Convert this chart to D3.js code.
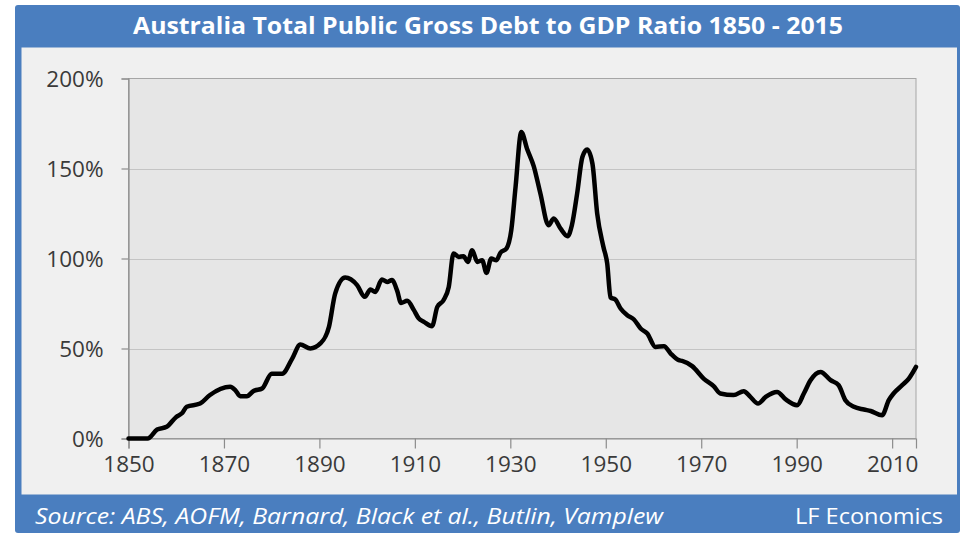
<!DOCTYPE html>
<html>
<head>
<meta charset="utf-8">
<script src="https://cdn.jsdelivr.net/npm/d3@7"></script>
<style>
  html, body { margin: 0; padding: 0; background: #ffffff; }
  svg { display: block; }
</style>
</head>
<body>
<svg id="chart" width="964" height="538"></svg>
<script>
// ---- data ----
const titleText = "Australia Total Public Gross Debt to GDP Ratio 1850 - 2015";
const sourceText = "Source: ABS, AOFM, Barnard, Black et al., Butlin, Vamplew";
const creditText = "LF Economics";

const years = [1850, 1854, 1856, 1858, 1860, 1861.2, 1862.2, 1865, 1867, 1871.3, 1872.4, 1873.4, 1874.8, 1876.2, 1878, 1880, 1882.2, 1884.3, 1886, 1888.1, 1890.2, 1892, 1893.3, 1895.4, 1897.9, 1899.5, 1900.7, 1901.7, 1903.1, 1904.2, 1905.2, 1906.3, 1907.1, 1908.4, 1909.8, 1910.8, 1911.9, 1913.6, 1914.7, 1916, 1917.1, 1918.1, 1919.2, 1920.2, 1921.1, 1922, 1923.1, 1924.1, 1925, 1926, 1927.1, 1927.9, 1929.2, 1930.2, 1931.1, 1932.3, 1933.5, 1934.9, 1936.3, 1938, 1939.1, 1940.5, 1942, 1942.9, 1944, 1945.1, 1946.1, 1947.2, 1948.2, 1949.5, 1950.3, 1951, 1952, 1953.1, 1954.5, 1955.9, 1957.3, 1958.7, 1960.4, 1962.2, 1963.6, 1965.3, 1966, 1968.1, 1970.5, 1972.6, 1974, 1976.8, 1978.9, 1980.3, 1981.9, 1983.5, 1985.9, 1987.7, 1990.1, 1991.5, 1992.9, 1995, 1997.1, 1998.8, 2000.2, 2002, 2004.1, 2005.5, 2007.9, 2009.3, 2010.3, 2012.1, 2013.5, 2015];
const debtPct = [0, 0, 5, 6.5, 12, 14, 17.6, 19.4, 24, 28.7, 26.8, 23.5, 23.5, 26.4, 27.8, 36, 36, 44.4, 52.2, 50, 52.8, 62, 80.5, 89.4, 85.2, 78.7, 82.8, 81.4, 88.3, 87, 88, 82, 75.3, 76.5, 71.3, 66.7, 64.8, 62.4, 73.1, 76.8, 84.2, 102.8, 100.9, 101.3, 98.1, 104.6, 98.1, 99, 92, 100, 99, 103.1, 105.6, 115.7, 139.8, 170.3, 161, 151.3, 136.1, 118.5, 122.2, 116.7, 112.4, 118.5, 136.1, 156.4, 160.5, 152.8, 125, 106.5, 97.2, 78.3, 77.2, 72.2, 68.5, 66.1, 61.1, 58.3, 50.9, 51.3, 47.2, 43.5, 43.1, 40.2, 33.3, 29.1, 25, 24.1, 26.3, 23.1, 19.4, 23.1, 25.9, 21.7, 18.5, 25, 32.4, 37, 32.4, 29.6, 21.3, 17.6, 16.1, 15.3, 12.9, 21.3, 25, 29.6, 33.3, 39.8];

const xTicks = [1850, 1870, 1890, 1910, 1930, 1950, 1970, 1990, 2010];
const yTicks = [0, 50, 100, 150, 200];
const xDomain = [1850, 2015];
const yDomain = [0, 200];

// ---- layout ----
const blue = "#4a7ebf";
const svg = d3.select("#chart");
const plot = { left: 128.5, right: 916, top: 78.5, bottom: 438.5 };

// frame
svg.append("rect").attr("x", 15).attr("y", 5).attr("width", 945).attr("height", 528)
  .attr("rx", 3).attr("fill", blue);
svg.append("rect").attr("x", 21.5).attr("y", 47.5).attr("width", 935.5).attr("height", 447)
  .attr("fill", "#f0f0f0");

// title & footer
svg.append("text").attr("x", 133).attr("y", 34)
  .attr("font-family", "'Open Sans', sans-serif").attr("font-weight", "700")
  .attr("font-size", "22.5px").attr("fill", "#ffffff")
  .attr("textLength", 710).attr("lengthAdjust", "spacingAndGlyphs").text(titleText);
svg.append("text").attr("x", 35).attr("y", 524.3)
  .attr("font-family", "'Open Sans', sans-serif").attr("font-style", "italic")
  .attr("font-size", "22.5px").attr("fill", "#ffffff")
  .attr("textLength", 628).attr("lengthAdjust", "spacingAndGlyphs").text(sourceText);
svg.append("text").attr("x", 795).attr("y", 524.3)
  .attr("font-family", "'Open Sans', sans-serif")
  .attr("font-size", "22.5px").attr("fill", "#ffffff")
  .attr("textLength", 148).attr("lengthAdjust", "spacingAndGlyphs").text(creditText);

// scales
const x = d3.scaleLinear().domain(xDomain).range([plot.left, plot.right]);
const y = d3.scaleLinear().domain(yDomain).range([plot.bottom, plot.top]);

// plot background
svg.append("rect").attr("x", plot.left).attr("y", plot.top)
  .attr("width", plot.right - plot.left).attr("height", plot.bottom - plot.top)
  .attr("fill", "#e6e6e6").attr("stroke", "#a6a6a6").attr("stroke-width", 1);

// gridlines
svg.append("g").selectAll("line").data(yTicks.filter(d => d > 0 && d < 200)).join("line")
  .attr("x1", plot.left).attr("x2", plot.right)
  .attr("y1", d => Math.round(y(d)) + 0.5).attr("y2", d => Math.round(y(d)) + 0.5)
  .attr("stroke", "#c4c4c4").attr("stroke-width", 1.2);

// axes
const yAxis = svg.append("g").attr("transform", `translate(${plot.left},0)`)
  .call(d3.axisLeft(y).tickValues(yTicks).tickFormat(d => d + "%").tickSize(7).tickPadding(18));
const xAxis = svg.append("g").attr("transform", `translate(0,${plot.bottom})`)
  .call(d3.axisBottom(x).tickValues(xTicks).tickFormat(d3.format("d")).tickSize(10).tickPadding(8));

[yAxis, xAxis].forEach(g => {
  g.select(".domain").attr("stroke", "#8c8c8c").attr("stroke-width", 1.2);
  g.selectAll(".tick line").attr("stroke", "#8c8c8c").attr("stroke-width", 1.2);
  g.selectAll(".tick text").attr("font-family", "'Open Sans', sans-serif")
    .attr("font-size", "22.5px").attr("fill", "#3a3a3a");
});
yAxis.selectAll(".tick text").attr("dy", "0.36em");

// line
const data = years.map((yr, i) => ({ yr, v: debtPct[i] }));
const line = d3.line().x(d => x(d.yr)).y(d => y(d.v)).curve(d3.curveMonotoneX);
svg.append("path").datum(data).attr("d", line)
  .attr("fill", "none").attr("stroke", "#000000").attr("stroke-width", 4.5)
  .attr("stroke-linejoin", "round").attr("stroke-linecap", "round");
</script>
</body>
</html>
